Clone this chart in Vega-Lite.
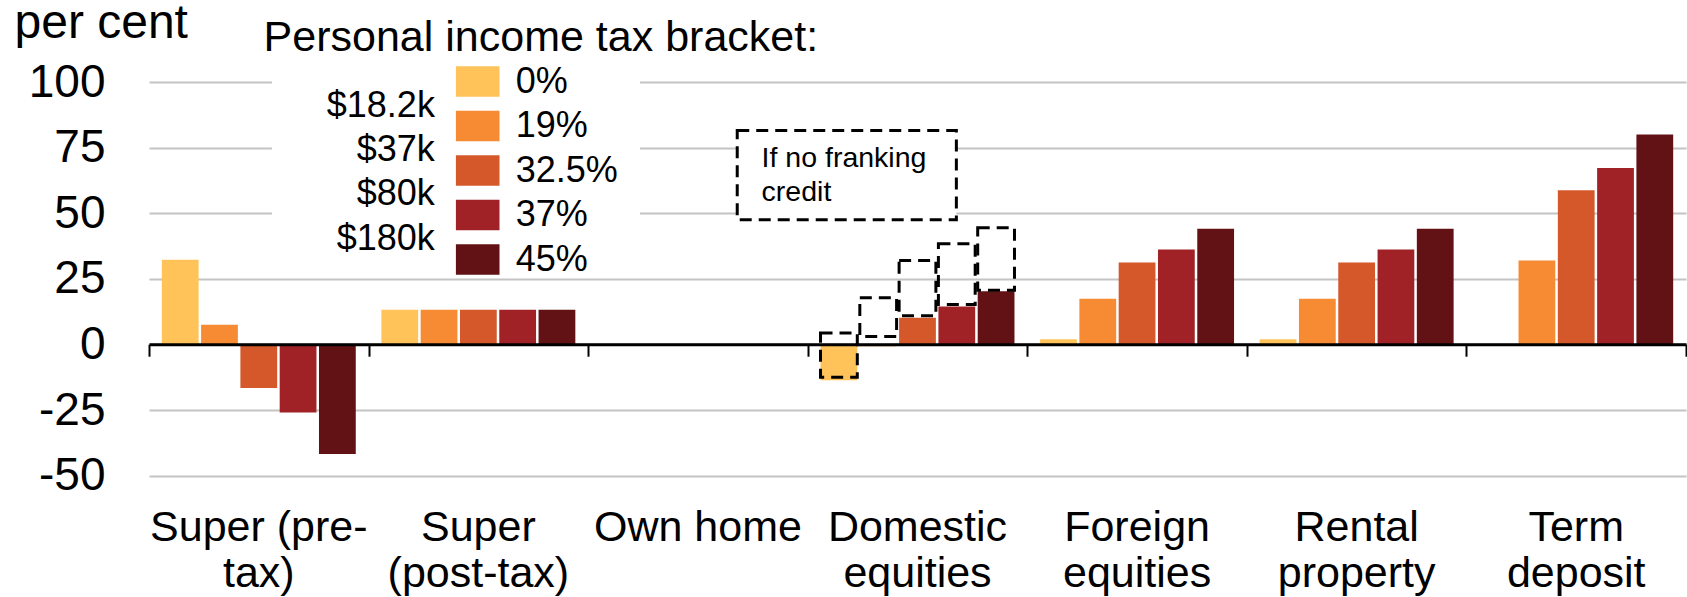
{
  "$schema": "https://vega.github.io/schema/vega-lite/v6.json",
  "width": 1537,
  "height": 393.6,
  "autosize": {"type": "none"},
  "padding": {"left": 149, "top": 82, "right": 1, "bottom": 121.4},
  "background": "white",
  "config": {
    "font": "Liberation Sans",
    "view": {"stroke": null},
    "axis": {"labelFont": "Liberation Sans", "titleFont": "Liberation Sans", "labelColor": "#000", "titleColor": "#000"},
    "text": {"font": "Liberation Sans", "color": "#000"}
  },
  "datasets": {
    "bars": [
      {"asset": "Super (pre-tax)", "bracket": "0%", "value": 32.3},
      {"asset": "Super (pre-tax)", "bracket": "19%", "value": 7.5},
      {"asset": "Super (pre-tax)", "bracket": "32.5%", "value": -16.6},
      {"asset": "Super (pre-tax)", "bracket": "37%", "value": -26.0},
      {"asset": "Super (pre-tax)", "bracket": "45%", "value": -41.8},
      {"asset": "Super (post-tax)", "bracket": "0%", "value": 13.2},
      {"asset": "Super (post-tax)", "bracket": "19%", "value": 13.2},
      {"asset": "Super (post-tax)", "bracket": "32.5%", "value": 13.2},
      {"asset": "Super (post-tax)", "bracket": "37%", "value": 13.2},
      {"asset": "Super (post-tax)", "bracket": "45%", "value": 13.2},
      {"asset": "Own home", "bracket": "0%", "value": 0},
      {"asset": "Own home", "bracket": "19%", "value": 0},
      {"asset": "Own home", "bracket": "32.5%", "value": 0},
      {"asset": "Own home", "bracket": "37%", "value": 0},
      {"asset": "Own home", "bracket": "45%", "value": 0},
      {"asset": "Domestic equities", "bracket": "0%", "value": -13.7},
      {"asset": "Domestic equities", "bracket": "19%", "value": -0.7},
      {"asset": "Domestic equities", "bracket": "32.5%", "value": 10.2},
      {"asset": "Domestic equities", "bracket": "37%", "value": 14.4},
      {"asset": "Domestic equities", "bracket": "45%", "value": 20.3},
      {"asset": "Foreign equities", "bracket": "0%", "value": 2.0},
      {"asset": "Foreign equities", "bracket": "19%", "value": 17.4},
      {"asset": "Foreign equities", "bracket": "32.5%", "value": 31.2},
      {"asset": "Foreign equities", "bracket": "37%", "value": 36.2},
      {"asset": "Foreign equities", "bracket": "45%", "value": 44.1},
      {"asset": "Rental property", "bracket": "0%", "value": 2.0},
      {"asset": "Rental property", "bracket": "19%", "value": 17.4},
      {"asset": "Rental property", "bracket": "32.5%", "value": 31.2},
      {"asset": "Rental property", "bracket": "37%", "value": 36.2},
      {"asset": "Rental property", "bracket": "45%", "value": 44.1},
      {"asset": "Term deposit", "bracket": "0%", "value": 0},
      {"asset": "Term deposit", "bracket": "19%", "value": 32.0},
      {"asset": "Term deposit", "bracket": "32.5%", "value": 58.7},
      {"asset": "Term deposit", "bracket": "37%", "value": 67.2},
      {"asset": "Term deposit", "bracket": "45%", "value": 80.0}
    ],
    "nofrank": [
      {"asset": "Domestic equities", "bracket": "0%", "lo": -12.5, "hi": 4.3},
      {"asset": "Domestic equities", "bracket": "19%", "lo": 3.0, "hi": 17.8},
      {"asset": "Domestic equities", "bracket": "32.5%", "lo": 10.9, "hi": 32.0},
      {"asset": "Domestic equities", "bracket": "37%", "lo": 15.2, "hi": 38.4},
      {"asset": "Domestic equities", "bracket": "45%", "lo": 20.6, "hi": 44.5}
    ]
  },
  "layer": [
    {
      "layer": [
        {
          "data": {"name": "bars"},
          "mark": {"type": "bar"},
          "encoding": {
            "x": {
              "field": "asset", "type": "nominal",
              "sort": ["Super (pre-tax)", "Super (post-tax)", "Own home", "Domestic equities", "Foreign equities", "Rental property", "Term deposit"],
              "scale": {"paddingInner": 0, "paddingOuter": 0},
              "axis": {
                "orient": "bottom",
                "title": null, "domain": false, "ticks": false, "grid": false,
                "labelFontSize": 43, "labelPadding": 31, "labelLineHeight": 46, "labelAngle": 0,
                "labelLimit": 400, "labelOverlap": false, "labelBaseline": "top",
                "labelExpr": "datum.value == 'Super (pre-tax)' ? ['Super (pre-', 'tax)'] : datum.value == 'Super (post-tax)' ? ['Super', '(post-tax)'] : datum.value == 'Own home' ? 'Own home' : split(datum.value, ' ')"
              }
            },
            "xOffset": {
              "field": "bracket", "type": "nominal",
              "sort": ["0%", "19%", "32.5%", "37%", "45%"],
              "scale": {"paddingInner": 0.064, "paddingOuter": 0.326}
            },
            "y": {
              "field": "value", "type": "quantitative", "title": "per cent",
              "scale": {"domain": [-50, 100], "nice": false, "zero": false},
              "axis": {
                "values": [-50, -25, 0, 25, 50, 75, 100],
                "labelExpr": "'' + datum.value",
                "grid": true, "gridColor": "#c4c4c4", "gridWidth": 2,
                "domain": false, "ticks": false,
                "labelFontSize": 46, "labelPadding": 44,
                "titleAngle": 0, "titleX": -135, "titleY": -45, "titleAlign": "left",
                "titleBaseline": "alphabetic", "titleFontSize": 48, "titleFontWeight": "normal"
              }
            },
            "color": {
              "field": "bracket", "type": "nominal",
              "sort": ["0%", "19%", "32.5%", "37%", "45%"],
              "scale": {"domain": ["0%", "19%", "32.5%", "37%", "45%"], "range": ["#FFC35A", "#F68B33", "#D4582A", "#A02226", "#621214"]},
              "legend": {
                "orient": "none", "legendX": 306.7, "legendY": -22.5, "title": null,
                "symbolType": "M-1,-0.7H1V0.7H-1Z", "symbolSize": 1901, "symbolStrokeWidth": 0, "symbolOpacity": 1,
                "labelFontSize": 36, "labelOffset": 16, "rowPadding": 4.5, "labelFont": "Liberation Sans", "labelColor": "#000"
              }
            }
          }
        },
        {
          "data": {"name": "nofrank"},
          "mark": {"type": "bar", "fill": "transparent", "stroke": "#000", "strokeWidth": 3, "strokeDash": [12, 7]},
          "encoding": {
            "x": {
              "field": "asset", "type": "nominal",
              "sort": ["Super (pre-tax)", "Super (post-tax)", "Own home", "Domestic equities", "Foreign equities", "Rental property", "Term deposit"],
              "axis": {
                "orient": "bottom",
                "title": null, "labels": false, "grid": false,
                "domain": true, "domainColor": "#000", "domainWidth": 3,
                "ticks": true, "tickBand": "extent", "tickColor": "#000", "tickWidth": 2, "tickSize": 12,
                "offset": -131.4, "zindex": 1
              }
            },
            "xOffset": {"field": "bracket", "type": "nominal", "sort": ["0%", "19%", "32.5%", "37%", "45%"]},
            "y": {"field": "lo", "type": "quantitative", "title": "per cent"},
            "y2": {"field": "hi"}
          }
        }
      ],
      "resolve": {"axis": {"x": "independent"}}
    },
    {
      "data": {"values": [{}]},
      "layer": [
        {
          "mark": {"type": "rect", "fill": "white"},
          "encoding": {
            "x": {"datum": 0.56, "type": "quantitative", "scale": {"domain": [0, 7], "nice": false, "zero": false}, "axis": null},
            "x2": {"datum": 2.236},
            "y": {"datum": 108, "type": "quantitative", "title": "per cent"},
            "y2": {"datum": 40}
          }
        },
        {
          "mark": {"type": "rect", "fill": "white", "stroke": "#000", "strokeWidth": 3, "strokeDash": [12, 7]},
          "encoding": {
            "x": {"datum": 2.679, "type": "quantitative", "axis": null},
            "x2": {"datum": 3.677},
            "y": {"datum": 81.5, "type": "quantitative", "title": "per cent"},
            "y2": {"datum": 47.5}
          }
        },
        {
          "mark": {"type": "text", "text": ["If no franking", "credit"], "align": "left", "baseline": "alphabetic", "fontSize": 28.5, "lineHeight": 34},
          "encoding": {
            "x": {"datum": 2.79, "type": "quantitative", "axis": null},
            "y": {"datum": 67.6, "type": "quantitative", "title": "per cent"}
          }
        },
        {
          "mark": {"type": "text", "text": ["$18.2k", "$37k", "$80k", "$180k"], "align": "right", "baseline": "alphabetic", "fontSize": 36, "lineHeight": 44.4},
          "encoding": {
            "x": {"datum": 1.302, "type": "quantitative", "axis": null},
            "y": {"datum": 86.8, "type": "quantitative", "title": "per cent"}
          }
        },
        {
          "mark": {"type": "text", "text": "Personal income tax bracket:", "align": "left", "baseline": "alphabetic", "fontSize": 43},
          "encoding": {
            "x": {"datum": 0.522, "type": "quantitative", "axis": null},
            "y": {"datum": 111.7, "type": "quantitative", "title": "per cent"}
          }
        }
      ]
    }
  ],
  "resolve": {"scale": {"x": "independent"}}
}
